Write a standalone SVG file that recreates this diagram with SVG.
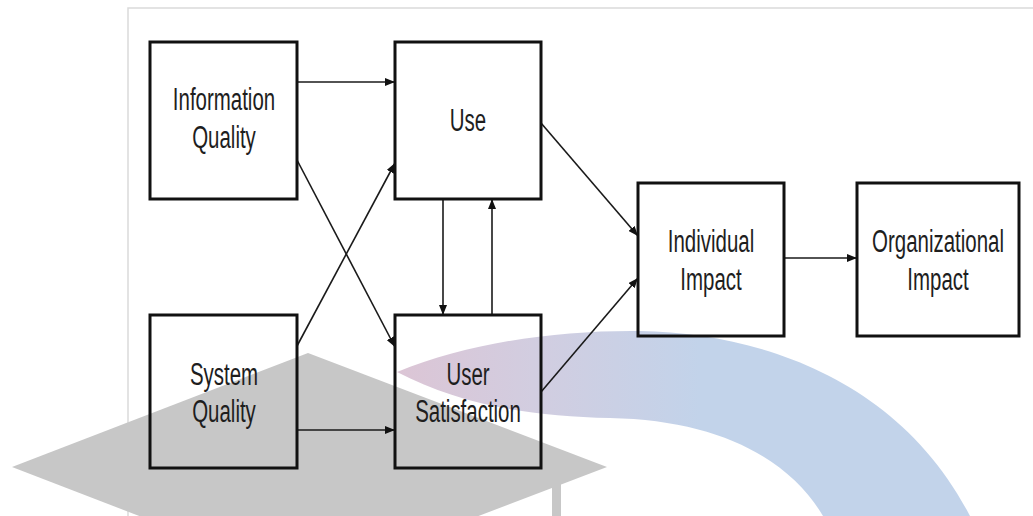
<svg xmlns="http://www.w3.org/2000/svg" width="1033" height="516" viewBox="0 0 1033 516">
<defs>
<marker id="ah" markerWidth="10" markerHeight="8" refX="10" refY="4" orient="auto" markerUnits="userSpaceOnUse">
<path d="M0,0 L10,4 L0,8 Z" fill="#111"/>
</marker>
<linearGradient id="arcg" x1="395" y1="0" x2="700" y2="0" gradientUnits="userSpaceOnUse">
<stop offset="0" stop-color="#dcc5d5"/>
<stop offset="0.45" stop-color="#d2cde0"/>
<stop offset="1" stop-color="#c2d3ea"/>
</linearGradient>
<style>
.box{fill:none;stroke:#111;stroke-width:3}
.t{font-family:"Liberation Sans",Arial,sans-serif;font-size:31px;fill:#1e1e1e;text-anchor:middle}
.c{fill:none;stroke:#1a1a1a;stroke-width:1.6;marker-end:url(#ah)}
</style>
</defs>
<rect width="1033" height="516" fill="#fff"/>
<g id="frame" stroke="#dadada" stroke-width="1.5" fill="none">
<path d="M128,516 L128,8 L1033,8"/>
</g>
<g id="watermark">
<path d="M397,372 C470,342 560,330 640,331 C760,333 900,380 970,516 L823,516 C790,460 720,420 610,418 C530,416 460,405 397,372 Z" fill="url(#arcg)"/>
<path d="M12,467 L308,353 L607,467 L308,581 Z" fill="#c7c7c7"/>
<rect x="552" y="484" width="9" height="32" fill="#c7c7c7"/>
</g>
<g id="connectors">
<path class="c" d="M297,82 L395,82"/>
<path class="c" d="M297,160 L395,347"/>
<path class="c" d="M297,346 L395,163"/>
<path class="c" d="M443,199 L443,315"/>
<path class="c" d="M492,315 L492,199"/>
<path class="c" d="M297,430 L395,430"/>
<path class="c" d="M541,123 L638,236"/>
<path class="c" d="M541,392 L638,278"/>
<path class="c" d="M784,258 L857,258"/>
</g>
<g id="information-quality">
<rect class="box" x="150" y="42" width="147" height="157"/>
<text class="t" transform="translate(224,110) scale(0.66,1)">Information</text>
<text class="t" transform="translate(224,148) scale(0.66,1)">Quality</text>
</g>
<g id="use">
<rect class="box" x="395" y="42" width="146" height="157"/>
<text class="t" transform="translate(468,131) scale(0.66,1)">Use</text>
</g>
<g id="system-quality">
<rect class="box" x="150" y="315" width="147" height="153"/>
<text class="t" transform="translate(224,385) scale(0.66,1)">System</text>
<text class="t" transform="translate(224,422) scale(0.66,1)">Quality</text>
</g>
<g id="user-satisfaction">
<rect class="box" x="395" y="315" width="146" height="153"/>
<text class="t" transform="translate(468,385) scale(0.66,1)">User</text>
<text class="t" transform="translate(468,422) scale(0.66,1)">Satisfaction</text>
</g>
<g id="individual-impact">
<rect class="box" x="638" y="183" width="146" height="153"/>
<text class="t" transform="translate(711,252) scale(0.66,1)">Individual</text>
<text class="t" transform="translate(711,290) scale(0.66,1)">Impact</text>
</g>
<g id="organizational-impact">
<rect class="box" x="857" y="183" width="162" height="153"/>
<text class="t" transform="translate(938,252) scale(0.66,1)">Organizational</text>
<text class="t" transform="translate(938,290) scale(0.66,1)">Impact</text>
</g>
</svg>
